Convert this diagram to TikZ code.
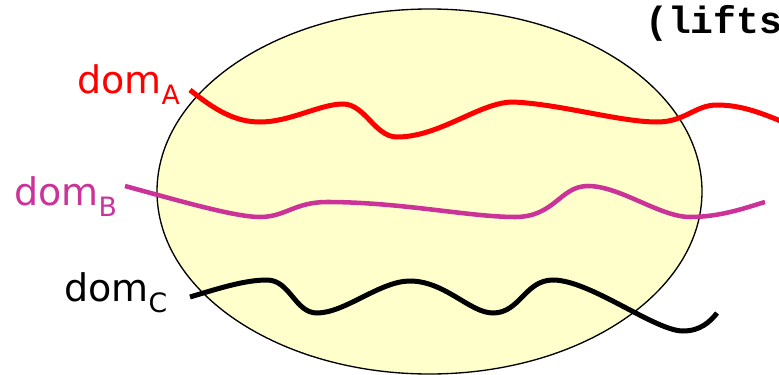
\documentclass[tikz,border=0pt]{standalone}
\usepackage{fontspec}
\setmainfont{DejaVu Sans}
\newfontfamily\liftsfont{Liberation Mono}
\definecolor{domA}{RGB}{255,0,0}
\definecolor{domB}{RGB}{204,51,153}
\definecolor{blobfill}{RGB}{255,255,204}
\newcommand{\domsub}[1]{\fontsize{28.5}{30}\selectfont dom\raisebox{-8.6pt}{\fontsize{20}{20}\selectfont #1}}
\begin{document}
\begin{tikzpicture}[x=0.75pt,y=-0.75pt,
  lbl/.style={anchor=base west,inner sep=0pt},
  dline/.style={line width=3.75pt}]
\useasboundingbox (0,0) rectangle (779,375);
\clip (0,0) rectangle (779,375);
\draw[fill=blobfill,line width=1pt] (429.5,191.5) ellipse [x radius=272.5,y radius=182.5];
\draw[dline,domA] (190,90) .. controls (215,110) and (235,122) .. (260,122)
.. controls (290,122) and (320,104) .. (343,104)
.. controls (365,104) and (375,137) .. (397,137)
.. controls (440,137) and (480,102) .. (513,102)
.. controls (560,104) and (620,122) .. (657,122)
.. controls (685,122) and (695,105) .. (717,105)
.. controls (740,105) and (760,112) .. (790,125);
\draw[line width=3.4pt,domB] (125,186) .. controls (180,201) and (235,217) .. (260,217)
.. controls (285,217) and (295,202) .. (327,202)
.. controls (400,202) and (470,217) .. (515,217)
.. controls (555,217) and (560,186) .. (588,186)
.. controls (620,186) and (660,217) .. (690,217)
.. controls (720,217) and (745,208) .. (765,202);
\draw[dline,black] (190,297) .. controls (220,288) and (245,280) .. (267,280)
.. controls (290,280) and (295,313) .. (317,313)
.. controls (345,313) and (380,281) .. (410,281)
.. controls (445,281) and (470,313) .. (493,313)
.. controls (520,313) and (525,280) .. (553,280)
.. controls (590,280) and (655,331) .. (683,331)
.. controls (700,331) and (710,322) .. (717,313);
\node[lbl,domA] (labA) at (77,93) {\domsub{A}};
\node[lbl,domB] (labB) at (14,205) {\domsub{B}};
\node[lbl] (labC) at (64,301) {\domsub{C}};
\node[lbl] (lifts) at (645,33) {\liftsfont\bfseries\fontsize{28.5}{30}\selectfont (lifts};
\end{tikzpicture}
\end{document}
